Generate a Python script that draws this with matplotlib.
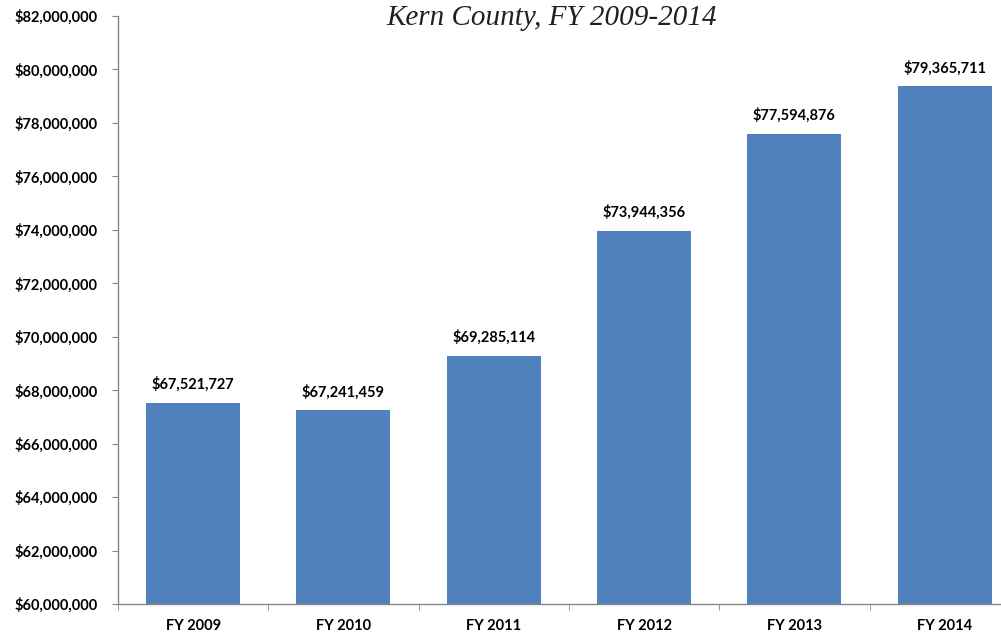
import matplotlib.pyplot as plt
from matplotlib.ticker import FuncFormatter, FixedLocator

years = ['FY 2009', 'FY 2010', 'FY 2011', 'FY 2012', 'FY 2013', 'FY 2014']
values = [67521727, 67241459, 69285114, 73944356, 77594876, 79365711]

bar_color = '#4F81BD'
axis_color = '#868686'
label_font = 'Lato'

fig = plt.figure(figsize=(10.01, 6.34), dpi=100)
ax = fig.add_axes([0.1179, 0.0473, 0.9009, 0.9274])

x = range(len(years))
ax.bar(x, values, width=0.625, color=bar_color, zorder=2)

for xi, v in zip(x, values):
    ax.annotate('${:,.0f}'.format(v), (xi, v), xytext=(0, 8), textcoords='offset points',
                ha='center', va='bottom', fontsize=10.5, fontweight='bold',
                family=label_font, color='black')

ax.set_ylim(60000000, 82000000)
ax.set_xlim(-0.5, len(years) - 0.5)
ax.set_yticks(range(60000000, 82000001, 2000000))
ax.yaxis.set_major_formatter(FuncFormatter(lambda v, p: '${:,.0f}'.format(v)))

ax.set_xticks(list(x))
ax.set_xticklabels(years)
ax.xaxis.set_minor_locator(FixedLocator([i - 0.5 for i in range(len(years) + 1)]))

ax.tick_params(axis='x', which='major', length=0, pad=11)
ax.tick_params(axis='x', which='minor', length=4, color=axis_color, direction='out')
ax.tick_params(axis='y', length=4, color=axis_color, pad=10.5)

for lab in ax.get_xticklabels() + ax.get_yticklabels():
    lab.set_fontsize(10.5)
    lab.set_fontweight('bold')
    lab.set_family(label_font)

for s in ['top', 'right']:
    ax.spines[s].set_visible(False)
for s in ['left', 'bottom']:
    ax.spines[s].set_color(axis_color)
    ax.spines[s].set_linewidth(1)

fig.text(552 / 1001, 1 - 18 / 634, 'Kern County, FY 2009-2014', ha='center', va='center',
         fontsize=21, style='italic', family='Liberation Serif', color='#231F20')

fig.savefig('out.png', dpi=100)
